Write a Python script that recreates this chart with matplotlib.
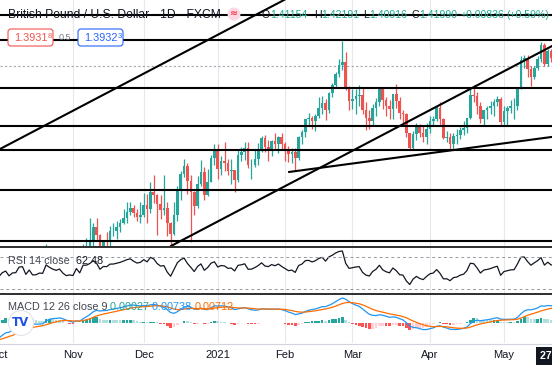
import numpy as np
import pandas as pd
import matplotlib.pyplot as plt
import matplotlib.transforms as mtransforms
from matplotlib.lines import Line2D
from matplotlib.patches import Circle, FancyBboxPatch

################################################################################################
# GBP/USD daily, FXCM - Oct 1 2020 .. May 27 2021 (trading days, no Dec 25 / Jan 1)
# Aug/Sep 2020 closes only used to warm up RSI and MACD
warmup_closes = [1.3075, 1.3075, 1.3120, 1.3139, 1.3055, 1.3075, 1.3050, 1.3045, 1.3070, 1.3090, 1.3125,
                 1.3240, 1.3090, 1.3220, 1.3090, 1.3085, 1.3170, 1.3205, 1.3220, 1.3348, 1.3369,
                 1.3385, 1.3303, 1.3277, 1.3279, 1.3150, 1.2983, 1.3006, 1.2793, 1.2793, 1.2850, 1.2907,
                 1.2955, 1.2967, 1.2919, 1.2819, 1.2737, 1.2729, 1.2746, 1.2746, 1.2829, 1.2832, 1.2922]

opens = [
    # oct
    1.2922, 1.2876, 1.2942, 1.2971, 1.2886, 1.2936, 1.2941, 1.3047, 1.3055, 1.2925, 1.3010, 1.2913, 1.2916,
    1.2947, 1.2943, 1.3118, 1.3077, 1.3045, 1.3024, 1.3050, 1.2980, 1.2934,
    # nov
    1.2945, 1.2935, 1.3055, 1.2982, 1.3150, 1.3150, 1.3190, 1.3265, 1.3226, 1.3126, 1.3190, 1.3187, 1.3246,
    1.3248, 1.3266, 1.3285, 1.3313, 1.3345, 1.3364, 1.3338, 1.3318,
    # dec
    1.3330, 1.3381, 1.3359, 1.3450, 1.3434, 1.3386, 1.3357, 1.3365, 1.3287, 1.3229, 1.3329, 1.3465, 1.3542,
    1.3586, 1.3510, 1.3450, 1.3377, 1.3490, 1.3555, 1.3436, 1.3504, 1.3627,
    # jan
    1.3670, 1.3570, 1.3612, 1.3604, 1.3560, 1.3566, 1.3514, 1.3644, 1.3658, 1.3683, 1.3591, 1.3593, 1.3625,
    1.3669, 1.3732, 1.3685, 1.3676, 1.3718, 1.3702, 1.3736,
    # feb
    1.3704, 1.3676, 1.3648, 1.3657, 1.3627, 1.3736, 1.3764, 1.3833, 1.3839, 1.3822, 1.3846, 1.3891, 1.3915,
    1.3878, 1.3966, 1.4008, 1.4069, 1.4116, 1.4131, 1.3995,
    # mar
    1.3925, 1.3939, 1.3951, 1.3957, 1.3880, 1.3838, 1.3824, 1.3888, 1.3924, 1.3993, 1.3930, 1.3903, 1.3887,
    1.3964, 1.3927, 1.3866, 1.3859, 1.3758, 1.3680, 1.3756, 1.3797, 1.3757, 1.3736,
    # apr
    1.3781, 1.3821, 1.3833, 1.3888, 1.3832, 1.3735, 1.3736, 1.3701, 1.3742, 1.3749, 1.3774, 1.3786, 1.3836,
    1.3960, 1.3955, 1.3903, 1.3830, 1.3878, 1.3888, 1.3902, 1.3922, 1.3938,
    # may
    1.3819, 1.3875, 1.3888, 1.3900, 1.3902, 1.3993, 1.4141, 1.4150, 1.4096, 1.4050, 1.4098, 1.4146, 1.4221,
    1.4122, 1.4189, 1.4150, 1.4145, 1.4150, 1.41154]

highs = [
    1.2977, 1.2950, 1.2996, 1.3000, 1.2945, 1.2982, 1.3062, 1.3082, 1.3059, 1.3064, 1.3026, 1.2960, 1.3017,
    1.2992, 1.3177, 1.3133, 1.3105, 1.3067, 1.3092, 1.3069, 1.3030, 1.2995,
    1.2969, 1.3060, 1.3140, 1.3175, 1.3208, 1.3314, 1.3285, 1.3312, 1.3230, 1.3201, 1.3240, 1.3270, 1.3290,
    1.3300, 1.3310, 1.3360, 1.3400, 1.3399, 1.3380, 1.3360, 1.3395,
    1.3443, 1.3440, 1.3500, 1.3540, 1.3440, 1.3435, 1.3540, 1.3395, 1.3295, 1.3400, 1.3480, 1.3560, 1.3625,
    1.3604, 1.3540, 1.3453, 1.3535, 1.3620, 1.3580, 1.3570, 1.3645, 1.3703,
    1.3704, 1.3640, 1.3710, 1.3625, 1.3622, 1.3567, 1.3668, 1.3686, 1.3710, 1.3710, 1.3623, 1.3675, 1.3708,
    1.3745, 1.3748, 1.3720, 1.3720, 1.3760, 1.3745, 1.3759,
    1.3714, 1.3691, 1.3678, 1.3680, 1.3745, 1.3775, 1.3830, 1.3865, 1.3848, 1.3860, 1.3950, 1.3952, 1.3936,
    1.3972, 1.4020, 1.4080, 1.4145, 1.4241, 1.4182, 1.4006,
    1.3990, 1.3990, 1.4010, 1.4000, 1.3920, 1.3880, 1.3910, 1.3944, 1.4000, 1.4000, 1.3950, 1.3930, 1.3964,
    1.4017, 1.3950, 1.3880, 1.3865, 1.3760, 1.3770, 1.3810, 1.3805, 1.3800, 1.3810,
    1.3850, 1.3850, 1.3900, 1.3919, 1.3840, 1.3770, 1.3760, 1.3760, 1.3780, 1.3790, 1.3820, 1.3840, 1.3990,
    1.4009, 1.3975, 1.3920, 1.3880, 1.3900, 1.3925, 1.3935, 1.3955, 1.3950,
    1.3900, 1.3900, 1.3930, 1.3940, 1.4000, 1.4160, 1.4166, 1.4170, 1.4110, 1.4110, 1.4160, 1.4234, 1.4230,
    1.4200, 1.4200, 1.4180, 1.4220, 1.4170, 1.42191]

lows = [
    1.2846, 1.2862, 1.2907, 1.2863, 1.2880, 1.2894, 1.2930, 1.3005, 1.2910, 1.2895, 1.2865, 1.2888, 1.2895,
    1.2896, 1.2923, 1.3025, 1.3001, 1.2990, 1.2998, 1.2962, 1.2910, 1.2881,
    1.2855, 1.2910, 1.2915, 1.2975, 1.3085, 1.3145, 1.3160, 1.3200, 1.3105, 1.3110, 1.3160, 1.3150, 1.3220,
    1.3202, 1.3240, 1.3280, 1.3285, 1.3330, 1.3320, 1.3300, 1.3290,
    1.3320, 1.3290, 1.3342, 1.3390, 1.3225, 1.3310, 1.3330, 1.3220, 1.3134, 1.3225, 1.3300, 1.3410, 1.3530,
    1.3440, 1.3188, 1.3330, 1.3365, 1.3480, 1.3410, 1.3430, 1.3500, 1.3590,
    1.3518, 1.3540, 1.3560, 1.3540, 1.3490, 1.3451, 1.3500, 1.3610, 1.3620, 1.3575, 1.3520, 1.3580, 1.3593,
    1.3660, 1.3660, 1.3610, 1.3640, 1.3670, 1.3655, 1.3670,
    1.3610, 1.3609, 1.3600, 1.3566, 1.3620, 1.3700, 1.3740, 1.3795, 1.3780, 1.3770, 1.3840, 1.3860, 1.3826,
    1.3862, 1.3950, 1.4000, 1.4050, 1.4090, 1.3985, 1.3880,
    1.3887, 1.3860, 1.3900, 1.3856, 1.3776, 1.3779, 1.3800, 1.3850, 1.3900, 1.3886, 1.3850, 1.3831, 1.3835,
    1.3890, 1.3835, 1.3800, 1.3736, 1.3670, 1.3670, 1.3725, 1.3740, 1.3710, 1.3700,
    1.3760, 1.3800, 1.3820, 1.3800, 1.3730, 1.3710, 1.3670, 1.3669, 1.3700, 1.3730, 1.3750, 1.3760, 1.3830,
    1.3920, 1.3860, 1.3810, 1.3800, 1.3830, 1.3860, 1.3850, 1.3900, 1.3800,
    1.3800, 1.3800, 1.3865, 1.3830, 1.3880, 1.3990, 1.4100, 1.4050, 1.4005, 1.4040, 1.4090, 1.4130, 1.4110,
    1.4110, 1.4130, 1.4120, 1.4120, 1.4090, 1.40916]

closes = [
    1.2876, 1.2942, 1.2971, 1.2886, 1.2936, 1.2941, 1.3047, 1.3055, 1.2925, 1.3010, 1.2913, 1.2916, 1.2947,
    1.2943, 1.3118, 1.3077, 1.3045, 1.3024, 1.3050, 1.2980, 1.2934, 1.2945,
    1.2935, 1.3055, 1.2982, 1.3150, 1.3150, 1.3190, 1.3265, 1.3226, 1.3126, 1.3190, 1.3187, 1.3246, 1.3248,
    1.3266, 1.3285, 1.3313, 1.3345, 1.3364, 1.3338, 1.3318, 1.3330,
    1.3381, 1.3359, 1.3450, 1.3434, 1.3386, 1.3357, 1.3365, 1.3287, 1.3229, 1.3329, 1.3465, 1.3542, 1.3586,
    1.3510, 1.3450, 1.3377, 1.3490, 1.3555, 1.3436, 1.3504, 1.3627, 1.3670,
    1.3570, 1.3612, 1.3604, 1.3560, 1.3566, 1.3514, 1.3644, 1.3658, 1.3683, 1.3591, 1.3593, 1.3625, 1.3669,
    1.3732, 1.3685, 1.3676, 1.3718, 1.3702, 1.3736, 1.3704,
    1.3676, 1.3648, 1.3657, 1.3627, 1.3736, 1.3764, 1.3833, 1.3839, 1.3822, 1.3846, 1.3891, 1.3915, 1.3878,
    1.3966, 1.4008, 1.4069, 1.4116, 1.4131, 1.3995, 1.3925,
    1.3939, 1.3951, 1.3957, 1.3880, 1.3838, 1.3824, 1.3888, 1.3924, 1.3993, 1.3930, 1.3903, 1.3887, 1.3964,
    1.3927, 1.3866, 1.3859, 1.3758, 1.3680, 1.3756, 1.3797, 1.3757, 1.3736, 1.3781,
    1.3821, 1.3833, 1.3888, 1.3832, 1.3735, 1.3736, 1.3701, 1.3742, 1.3749, 1.3774, 1.3786, 1.3836, 1.3960,
    1.3955, 1.3903, 1.3830, 1.3878, 1.3888, 1.3902, 1.3922, 1.3938, 1.3819,
    1.3875, 1.3888, 1.3900, 1.3902, 1.3993, 1.4141, 1.4150, 1.4096, 1.4050, 1.4098, 1.4146, 1.4221, 1.4122,
    1.4189, 1.4150, 1.4145, 1.4150, 1.41154, 1.41990]

month_labels = ['Oct', 'Nov', 'Dec', '2021', 'Feb', 'Mar', 'Apr', 'May']
month_pos = [0, 22, 43, 65, 85, 105, 128, 150]

# drawings on the chart
hline_levels = [1.4377, 1.4246, 1.3995, 1.3796, 1.3670, 1.3460, 1.3193]
price_line = 1.4111
upper_channel = [(0.3, 1.3675), (84.7, 1.4456)]
lower_channel = [(51.1, 1.3167), (164.3, 1.4215)]
support_line = [(86.2, 1.3555), (170.0, 1.3752)]

################################################################################################
W, H = 552, 367
FONT = 'Liberation Sans'
UP, DOWN = '#26a69a', '#ef5350'

def fx(px):
    return px / W

def fy(py):
    return 1 - py / H

def panel(top, bottom):
    a = fig.add_axes([0, fy(bottom), 1, (bottom - top) / H])
    a.set_axis_off()
    a.set_xlim(0.32, 164.26)
    for p in month_pos:
        a.axvline(p, color='#e6e8ee', lw=0.8, zorder=0)
    return a

def put_pieces(x, y, pieces, size):
    # pieces: (text, colour) or (text, colour, size, dy)
    for piece in pieces:
        txt, col = piece[0], piece[1]
        sz = piece[2] if len(piece) > 2 else size
        dy = piece[3] if len(piece) > 3 else 0
        t = fig.text(fx(x), fy(y + dy), txt, color=col, fontsize=sz, va='center', ha='left', family=FONT)
        x += t.get_window_extent(renderer).width
    return x

################################################################################################
# indicators
s = pd.Series(warmup_closes + closes)
delta = s.diff()
gain = delta.clip(lower=0).ewm(alpha=1 / 14, adjust=False).mean()
loss = (-delta.clip(upper=0)).ewm(alpha=1 / 14, adjust=False).mean()
rsi = (100 - 100 / (1 + gain / loss)).values[len(warmup_closes):]
macd = s.ewm(span=12, adjust=False).mean() - s.ewm(span=26, adjust=False).mean()
signal = macd.ewm(span=9, adjust=False).mean()
hist = (macd - signal).values[len(warmup_closes):]
macd = macd.values[len(warmup_closes):]
signal = signal.values[len(warmup_closes):]

fig = plt.figure(figsize=(W / 100, H / 100), dpi=100)
renderer = fig.canvas.get_renderer()

ax = panel(0, 246)
ax_rsi = panel(247, 293)
ax_macd = panel(294, 343)

# candles
x = np.arange(len(closes))
o, h, l, c = map(np.array, (opens, highs, lows, closes))
col = np.where(c >= o, UP, DOWN)
ax.vlines(x, l, h, colors=col, lw=0.9, zorder=2)
ax.bar(x, np.maximum(np.abs(c - o), 0.00015), bottom=np.minimum(o, c), width=0.78, color=col, lw=0, zorder=3)
ax.set_ylim(1.31671, 1.44558)

for lev in hline_levels:
    ax.axhline(lev, color='black', lw=1.5, zorder=4)
ax.axhline(price_line, color='#a3a6af', lw=0.8, ls=(0, (2, 2)), zorder=1)
ax.axline(upper_channel[0], upper_channel[1], color='black', lw=1.5, zorder=4)
ax.axline(lower_channel[0], lower_channel[1], color='black', lw=1.5, zorder=4)
ax.plot(*zip(*support_line), color='black', lw=1.5, zorder=4)

# rsi
ax_rsi.plot(x, rsi, color='#131722', lw=0.9)
for lev in (70, 30):
    ax_rsi.axhline(lev, color='#9598a1', lw=0.7, ls=(0, (3, 3)))
ax_rsi.set_ylim(25, 82.5)

# macd
prev = np.concatenate([[0], hist[:-1]])
hcol = np.where(hist >= 0, np.where(hist >= prev, '#26a69a', '#b2dfdb'),
                np.where(hist < prev, '#ff5252', '#ffcdd2'))
ax_macd.bar(x, hist, width=0.78, color=hcol, lw=0)
ax_macd.plot(x, macd, color='#2196f3', lw=0.9)
ax_macd.plot(x, signal, color='#ff6d00', lw=0.9)
ppu = 25 / macd[:165].max()
ax_macd.set_ylim(-20 / ppu, 29 / ppu)

# month labels under the macd pane
tr = mtransforms.blended_transform_factory(ax_macd.transData, fig.transFigure)
for p, lab in zip(month_pos, month_labels):
    ax_macd.text(p, fy(355), lab, transform=tr, ha='center', va='center', fontsize=8,
                 color='#131722', family=FONT, clip_on=False)

# pane separators
for yy, cc, ww in [(246.5, '#1e1e1e', 1.3), (293.5, '#1e1e1e', 1.3), (343.5, '#d1d4dc', 0.8)]:
    fig.add_artist(Line2D([0, 1], [fy(yy)] * 2, color=cc, lw=ww))

################################################################################################
# legends / header
put_pieces(8, 15, [('British Pound / U.S. Dollar · 1D · FXCM', '#131722')], 8.7)
ident = mtransforms.IdentityTransform()
fig.add_artist(Circle((234, H - 14), 6.5, transform=ident, fc='#fcd9e2', ec='none'))
fig.text(fx(234), fy(14), '≈', ha='center', va='center', fontsize=7, color='#f23645', fontweight='bold')
teal = '#22ab94'
for xs, lab, val in [(262, 'O', '1.41154'), (314, 'H', '1.42191'), (363, 'L', '1.40916'), (412, 'C', '1.41990')]:
    put_pieces(xs, 15, [(lab, '#131722'), (val, teal)], 7.6)
put_pieces(461, 15, [('+0.00836', teal)], 7.6)
put_pieces(506, 15, [('(+0.59%)', teal)], 7.6)

# buy / sell boxes
for x0, ec in [(8, '#ef5350'), (78, '#2962ff')]:
    fig.add_artist(FancyBboxPatch((x0, H - 46), 45, 17, boxstyle='round,pad=0,rounding_size=3',
                                  transform=ident, fc='white', ec=ec, lw=0.8))
put_pieces(14, 38, [('1.3931', '#ef5350'), ('8', '#ef5350', 5.5, -2)], 7.8)
fig.text(fx(59), fy(37.5), '0.5', fontsize=6.5, color='#787b86', va='center', family=FONT)
put_pieces(84, 38, [('1.3932', '#2962ff'), ('3', '#2962ff', 5.5, -2)], 7.8)

# indicator legends
put_pieces(8, 261, [('RSI 14 close', '#434651'), ('  62.48', '#131722')], 7.8)
put_pieces(8, 307, [('MACD 12 26 close 9 ', '#434651'), ('0.00027 ', '#26a69a'),
                    ('0.00738 ', '#2196f3'), ('0.00712', '#ff6d00')], 7.8)

# tradingview logo
fig.add_artist(Circle((21, H - 323), 12.5, transform=ident, fc='white', ec='#e0e3eb', lw=0.8))
fig.text(fx(21), fy(323), 'TV', ha='center', va='center', fontsize=8.5, color='#1e53e5',
         fontweight='black', family='DejaVu Sans')

# crosshair date
fig.text(fx(566), fy(356), "27 May '21", ha='center', va='center', fontsize=7.6, color='white',
         fontweight='bold', family=FONT, bbox=dict(boxstyle='square,pad=0.4', fc='#131722', ec='none'))

fig.savefig('out.png', dpi=100)
